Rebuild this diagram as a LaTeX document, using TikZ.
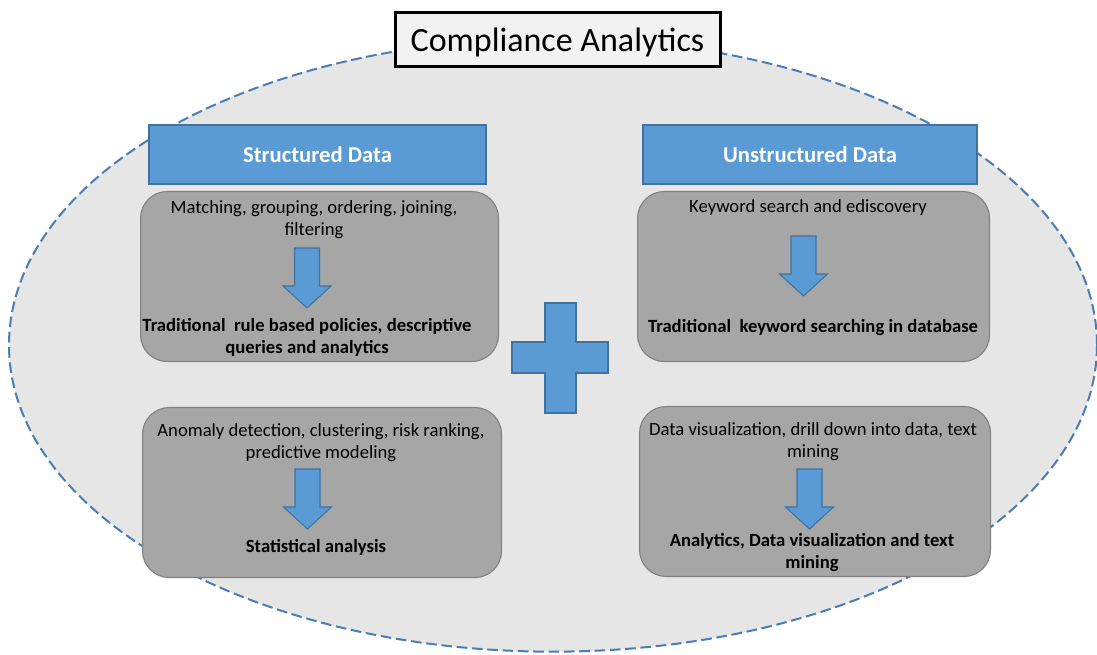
\documentclass[tikz,border=0pt]{standalone}
\usepackage{fontspec}
\setmainfont{Carlito}
\usetikzlibrary{positioning}

\definecolor{panelblue}{HTML}{5B9BD5}
\definecolor{panelline}{HTML}{41719C}
\definecolor{ovalgray}{HTML}{E6E6E6}
\definecolor{ovalline}{HTML}{4A7DB3}
\definecolor{stagegray}{HTML}{A6A6A6}
\definecolor{stageline}{HTML}{7F7F7F}
\definecolor{titlefill}{HTML}{F2F2F2}

\tikzset{
  header/.style={draw=panelline, line width=1pt, fill=panelblue, text=white,
    font=\fontsize{17}{20}\selectfont\bfseries, minimum height=44.25pt, inner sep=0pt},
  stage/.style={draw=stageline, line width=0.8pt, fill=stagegray, rounded corners=20pt,
    anchor=north west, minimum height=127.5pt, inner sep=0pt},
  intext/.style={font=\fontsize{14}{16.5}\selectfont, align=center, anchor=north, inner sep=0pt},
  outtext/.style={font=\fontsize{14}{16.5}\selectfont\bfseries, align=center, anchor=north, inner sep=0pt},
  blockfill/.style={fill=panelblue, draw=panelline, line width=0.8pt},
  pics/downarrow/.style={code={
    \draw[blockfill] (-12.5,0) -- (12.5,0) -- (12.5,38) -- (24,38) -- (0,60)
      -- (-24,38) -- (-12.5,38) -- cycle;}}
}

\begin{document}
\begin{tikzpicture}[x=0.75pt, y=-0.75pt]
    \useasboundingbox (0,0) rectangle (1097,655);

    % Background oval
    \draw[fill=ovalgray, draw=ovalline, line width=1.5pt, dash pattern=on 8pt off 3.5pt]
        (553,345) ellipse [x radius=408pt, y radius=230pt];

    % Title
    \node[draw=black, line width=2.25pt, fill=titlefill, minimum width=243.75pt,
        minimum height=40.5pt, inner sep=0pt, text height=21.5pt, text depth=4pt,
        font=\fontsize{25.5}{30}\selectfont]
        (title) at (557.5,40) {Compliance Analytics};

    % Structured data
    \node[header, minimum width=252.75pt] (structured) at (317.5,154.5) {Structured Data};
    \node[stage, minimum width=268.5pt] (rulebox) at (140,191) {};
    \node[intext] (rulein) at (314,200) {Matching, grouping, ordering, joining,\\filtering};
    \pic at (307,248) {downarrow};
    \node[outtext] (ruleout) at (307,318) {Traditional~ rule based policies, descriptive\\queries and analytics};

    \node[stage, minimum width=269.25pt] (statbox) at (142,407) {};
    \node[intext] (statin) at (321,423) {Anomaly detection, clustering, risk ranking,\\predictive modeling};
    \pic at (307.5,469) {downarrow};
    \node[outtext] (statout) at (316,539) {Statistical analysis};

    % Unstructured data
    \node[header, minimum width=250.5pt] (unstructured) at (810,154.5) {Unstructured Data};
    \node[stage, minimum width=264pt] (keybox) at (637,191) {};
    \node[intext] (keyin) at (808,199) {Keyword search and ediscovery};
    \pic at (803.5,236) {downarrow};
    \node[outtext] (keyout) at (813,319) {Traditional~ keyword searching in database};

    \node[stage, minimum width=263.25pt] (textbox) at (639,406) {};
    \node[intext] (textin) at (813,422) {Data visualization, drill down into data, text\\mining};
    \pic at (809.5,469) {downarrow};
    \node[outtext] (textout) at (812,533) {Analytics, Data visualization and text\\mining};

    % Plus sign
    \draw[blockfill] (545,303) -- (576,303) -- (576,342) -- (608,342) -- (608,373)
        -- (576,373) -- (576,413) -- (545,413) -- (545,373) -- (512,373)
        -- (512,342) -- (545,342) -- cycle;
\end{tikzpicture}
\end{document}
